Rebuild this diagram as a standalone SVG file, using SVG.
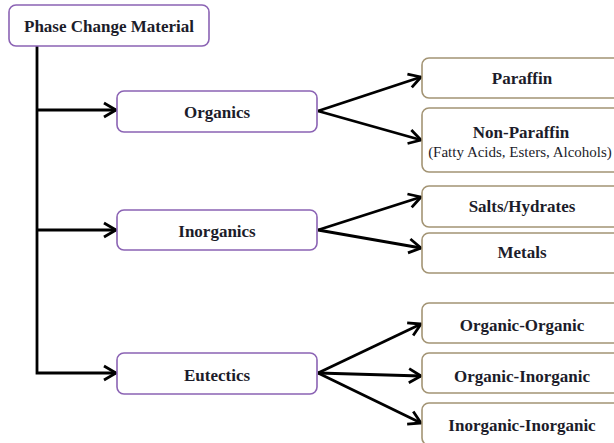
<svg xmlns="http://www.w3.org/2000/svg" width="614" height="443" viewBox="0 0 614 443">
  <style>
    .cat { fill: #ffffff; stroke: #8b63b4; stroke-width: 1.6; }
    .leaf { fill: #ffffff; stroke: #a39474; stroke-width: 1.6; }
    .lbl { font-family: "Liberation Serif", "Times New Roman", serif; font-weight: bold; font-size: 17px; fill: #1c1c2a; text-anchor: middle; dominant-baseline: central; }
    .sub { font-family: "Liberation Serif", "Times New Roman", serif; font-size: 15px; fill: #1c1c2a; text-anchor: middle; dominant-baseline: central; }
    .conn { fill: none; stroke: #000000; stroke-width: 2.8; }
  </style>
  <defs>
    <marker id="arrow" markerUnits="userSpaceOnUse" markerWidth="18" markerHeight="18" viewBox="0 0 18 18" refX="15" refY="9" orient="auto">
      <path d="M3,2 L15,9 L3,16" fill="none" stroke="#000000" stroke-width="2.8" stroke-linejoin="miter"/>
    </marker>
  </defs>

  <g id="connectors">
    <!-- trunk from the root down to the last branch -->
    <path class="conn" d="M37,46 V373 H116" stroke-linejoin="miter" marker-end="url(#arrow)"/>
    <path class="conn" d="M37,110 H116" marker-end="url(#arrow)"/>
    <path class="conn" d="M37,230 H116" marker-end="url(#arrow)"/>
    <path class="conn" d="M318,111 L421,77" marker-end="url(#arrow)"/>
    <path class="conn" d="M318,111 L421,140" marker-end="url(#arrow)"/>
    <path class="conn" d="M318,230 L421,197" marker-end="url(#arrow)"/>
    <path class="conn" d="M318,230 L421,248" marker-end="url(#arrow)"/>
    <path class="conn" d="M318,373 L421,324" marker-end="url(#arrow)"/>
    <path class="conn" d="M318,373 L421,376" marker-end="url(#arrow)"/>
    <path class="conn" d="M318,373 L421,423" marker-end="url(#arrow)"/>
  </g>

  <g id="pcm">
    <rect class="cat" x="9" y="5" width="200" height="41" rx="7"/>
    <text class="lbl" x="109" y="26">Phase Change Material</text>
  </g>

  <g id="organics">
    <rect class="cat" x="117" y="91" width="200" height="41" rx="7"/>
    <text class="lbl" x="217" y="112">Organics</text>
  </g>
  <g id="inorganics">
    <rect class="cat" x="117" y="210" width="200" height="40" rx="7"/>
    <text class="lbl" x="217" y="231">Inorganics</text>
  </g>
  <g id="eutectics">
    <rect class="cat" x="117" y="353" width="200" height="41" rx="7"/>
    <text class="lbl" x="217" y="375">Eutectics</text>
  </g>

  <g id="paraffin">
    <rect class="leaf" x="422" y="58" width="200" height="40" rx="7"/>
    <text class="lbl" x="522" y="78">Paraffin</text>
  </g>
  <g id="non-paraffin">
    <rect class="leaf" x="422" y="108" width="200" height="64" rx="7"/>
    <text class="lbl" x="521" y="132">Non-Paraffin</text>
    <text class="sub" x="520" y="152">(Fatty Acids, Esters, Alcohols)</text>
  </g>
  <g id="salts-hydrates">
    <rect class="leaf" x="422" y="186" width="200" height="41" rx="7"/>
    <text class="lbl" x="522" y="206">Salts/Hydrates</text>
  </g>
  <g id="metals">
    <rect class="leaf" x="422" y="233" width="200" height="40" rx="7"/>
    <text class="lbl" x="522" y="252">Metals</text>
  </g>
  <g id="organic-organic">
    <rect class="leaf" x="422" y="303" width="200" height="40" rx="7"/>
    <text class="lbl" x="522" y="325">Organic-Organic</text>
  </g>
  <g id="organic-inorganic">
    <rect class="leaf" x="422" y="353" width="200" height="40" rx="7"/>
    <text class="lbl" x="522" y="376">Organic-Inorganic</text>
  </g>
  <g id="inorganic-inorganic">
    <rect class="leaf" x="422" y="403" width="200" height="42" rx="7"/>
    <text class="lbl" x="522" y="425">Inorganic-Inorganic</text>
  </g>
</svg>
